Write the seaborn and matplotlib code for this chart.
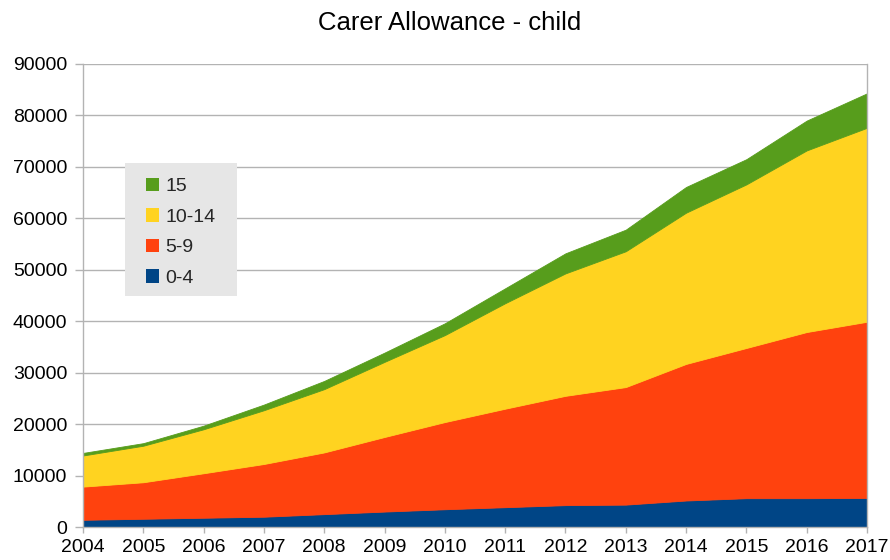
import matplotlib
matplotlib.use("Agg")
import matplotlib.pyplot as plt
from matplotlib.patches import Patch, Rectangle
import pandas as pd
import seaborn as sns

# Carer Allowance recipients (children) by age group, 2004-2017
years = list(range(2004, 2018))
age_0_4 = [1400, 1600, 1800, 2000, 2500, 3000, 3450, 3850, 4250, 4350, 5150, 5600, 5600, 5650]
age_5_9 = [6450, 7100, 8650, 10250, 12000, 14500, 16950, 19150, 21250, 22850, 26550, 29200, 32300, 34250]
age_10_14 = [6050, 7100, 8550, 10450, 12300, 14600, 16900, 20500, 23800, 26400, 29400, 31800, 35300, 37700]
age_15 = [500, 500, 700, 1100, 1600, 1800, 2300, 2900, 3900, 4200, 5000, 4900, 5800, 6700]

groups = ["15", "10-14", "5-9", "0-4"]
colors = {"15": "#579d1c", "10-14": "#ffd320", "5-9": "#ff420e", "0-4": "#004586"}
y_ticks = list(range(0, 90001, 10000))

df = pd.DataFrame({
    "year": years * 4,
    "age": ["0-4"] * 14 + ["5-9"] * 14 + ["10-14"] * 14 + ["15"] * 14,
    "count": age_0_4 + age_5_9 + age_10_14 + age_15,
})

sns.set_theme(style="white")
plt.rcParams["font.family"] = ["Liberation Sans", "DejaVu Sans"]

W, H = 890, 560
fig = plt.figure(figsize=(W / 100, H / 100), dpi=100)
ax = fig.add_axes([83 / W, 1 - 527 / H, (867 - 83) / W, (527 - 64) / H])

# stacked areas: last hue level sits at the bottom of the stack
sns.histplot(
    data=df, x="year", weights="count", hue="age", hue_order=groups,
    multiple="stack", element="poly", discrete=True, palette=colors,
    alpha=1, linewidth=0, legend=False, ax=ax,
)
for coll in ax.collections:
    coll.set_edgecolor(coll.get_facecolor())
    coll.set_linewidth(0.6)

grid_c = "#b3b3b3"
ax.set_xlim(2004, 2017)
ax.set_ylim(0, 90000)
ax.set_yticks(y_ticks)
ax.set_yticklabels([str(v) for v in y_ticks])
ax.set_xticks(years)
ax.set_xticklabels([str(y) for y in years])
ax.yaxis.grid(True, color=grid_c, linewidth=1)
ax.set_axisbelow(True)
ax.set_xlabel("")
ax.set_ylabel("")
for side in ["left", "bottom", "right"]:
    ax.spines[side].set_color(grid_c)
    ax.spines[side].set_linewidth(1)
ax.spines["top"].set_visible(False)
ax.tick_params(axis="y", which="major", left=True, length=5.8, width=1,
               color=grid_c, pad=5.5, labelsize=14, labelcolor="black")
ax.tick_params(axis="x", which="major", bottom=True, length=4.3, width=1,
               color=grid_c, pad=4.3, labelsize=14, labelcolor="black")

# legend panel
fig.patches.append(Rectangle((125 / W, 1 - 296 / H), (237 - 125) / W, (296 - 163) / H,
                             transform=fig.transFigure, facecolor="#e6e6e6",
                             edgecolor="none", zorder=5))
handles = [Patch(facecolor=colors[g], edgecolor="none", label=g) for g in groups]
leg = fig.legend(
    handles=handles, loc="upper left",
    bbox_to_anchor=(146 / W, 1 - 178 / H), bbox_transform=fig.transFigure,
    frameon=False, fontsize=14, handlelength=0.67, handleheight=0.67,
    handletextpad=0.31, labelspacing=0.67, borderpad=0, borderaxespad=0,
)
leg.set_zorder(6)

fig.text(450 / W, 1 - 30 / H, "Carer Allowance - child", ha="center",
         va="baseline", fontsize=18.5, color="black")

fig.savefig("out.png", dpi=100)
